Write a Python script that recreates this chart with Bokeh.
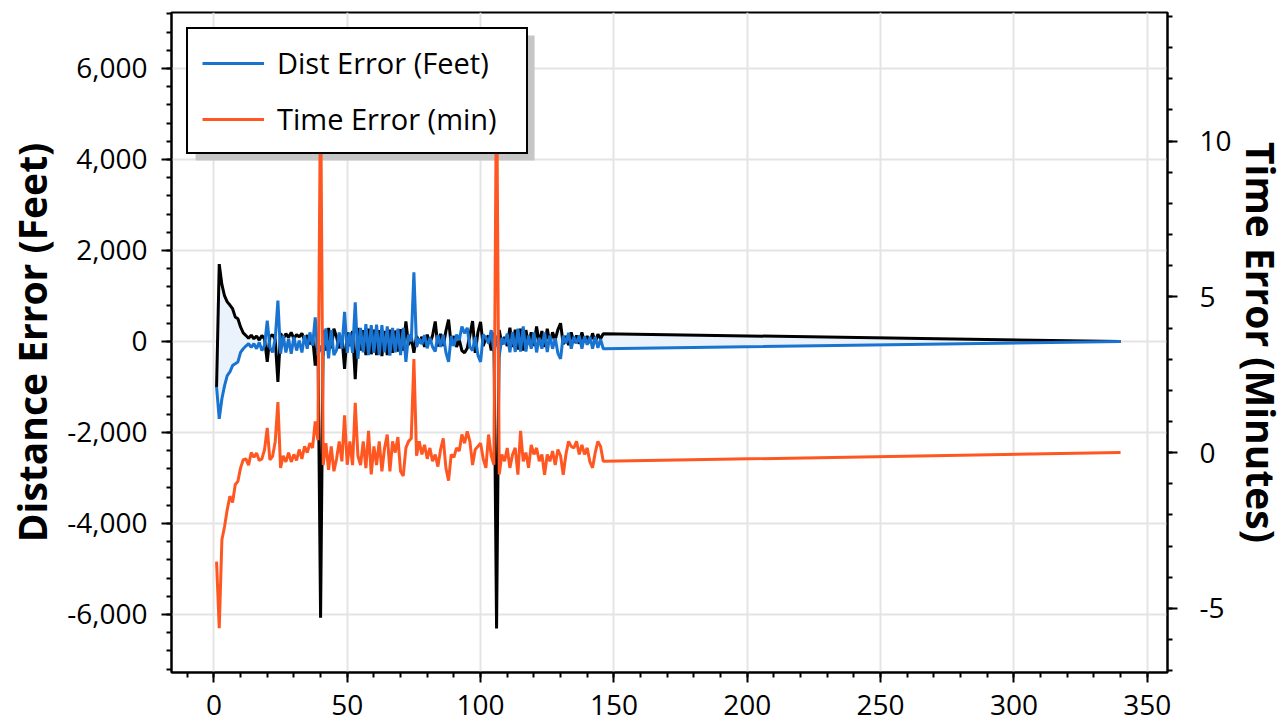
from bokeh.plotting import figure
from bokeh.models import (Range1d, LinearAxis, SingleIntervalTicker, NumeralTickFormatter,
                          Legend, LegendItem, BoxAnnotation)
from bokeh.embed import file_html
from bokeh.resources import INLINE

# ---------------- data ----------------
step = list(range(1, 147)) + [340]

dist_err_ft = [
    -1000, -1700, -1260, -970, -750, -670, -530, -490, -450, -240,
    -160, -100, -50, -130, -50, -160, -20, -200, -90, 460,
    -130, -240, 60, 900, -270, 130, -240, 60, -270, 100,
    -200, 20, -240, 130, -160, 200, -90, 530, -310, -90,
    -300, 290, -370, 250, -300, -190, 200, -160, 650, -250,
    200, -250, 860, -380, 300, -240, 380, -300, 360, -250,
    370, -300, 360, -240, 330, -310, 300, -240, 280, -300,
    300, -450, 150, 0, 1520, -120, 60, -60, 140, -150,
    80, -120, -220, 140, -120, 150, -240, -450, 120, -100,
    150, 30, 330, 180, 300, -120, -200, 100, -300, -450,
    150, 80, -40, 250, -220, 130, -320, 80, -60, 170,
    -240, 210, -230, 280, -220, 330, -220, 130, -160, 200,
    -240, 80, -160, 200, -230, 130, -160, 70, -260, -380,
    130, -40, 190, -160, 100, -40, 130, -160, 110, -70,
    100, -160, 100, -140, 50, -160,
    0,
]

ref_err_ft = [
    -1000, 1700, 1250, 1000, 870, 800, 720, 540, 500, 320,
    190, 130, 70, 140, 60, 120, 30, 130, 60, -450,
    110, 150, 40, -890, 180, 60, 170, 90, 200, 60,
    150, 100, 180, 30, 140, -60, 120, -530, 180, -6070,
    250, -200, 300, -150, 280, 100, -150, 120, -600, 200,
    -100, 230, -830, 300, -200, 250, -300, 280, -280, 260,
    -300, 250, -320, 230, -300, 260, -250, 240, -220, 270,
    -200, 440, -80, 100, -250, 120, -30, 100, -120, 150,
    -40, 130, 440, -110, 170, -100, 230, 480, -80, 120,
    -120, 40, -200, -250, -150, 140, 450, -250, 200, 430,
    -100, 80, 120, -200, 200, -6310, 250, -60, 100, -100,
    300, -120, 260, -180, 280, -200, 250, -60, 200, -100,
    330, -40, 230, -120, 280, -40, 200, 40, 260, 400,
    -60, 120, -80, 200, -30, 130, -50, 200, -20, 120,
    -30, 180, -20, 160, 60, 170,
    0,
]

time_err_min = [
    -3.5, -5.64, -2.8, -2.37, -1.83, -1.4, -1.6, -1.03, -0.92, -0.49,
    -0.23, -0.2, -0.4, 0.0, -0.15, -0.01, -0.25, -0.2, 0.1, 0.79,
    -0.23, -0.12, 0.35, 1.62, -0.49, -0.1, -0.3, 0.0, -0.3, -0.06,
    -0.25, 0.1, -0.2, 0.2, 0.0, 0.3, 0.15, 1.0, 0.4, 12.0,
    -0.4, 0.3, -0.55, 0.2, -0.6, -0.2, 0.36, -0.28, 1.2, -0.39,
    0.36, -0.4, 1.6, -0.1, -0.4, 0.36, -0.5, 0.7, -0.7, 0.2,
    -0.4, 0.36, -0.6, 0.15, 0.58, -0.6, 0.36, 0.0, 0.5, -0.6,
    -0.75, 0.15, 0.36, 0.45, 3.0, -0.1, 0.36, -0.06, 0.25, -0.2,
    0.15, -0.28, -0.06, -0.45, 0.1, 0.46, -0.49, -0.9, -0.06, -0.15,
    0.15, 0.05, 0.58, 0.3, 0.68, 0.36, -0.4, 0.1, 0.2, 0.3,
    -0.2, -0.49, 0.58, -0.1, -0.39, 12.5, -0.7, -0.06, -0.28, 0.15,
    -0.49, -0.06, 0.15, -0.71, 0.7, -0.28, 0.0, -0.49, 0.25, -0.06,
    0.15, -0.28, -0.06, -0.71, -0.06, -0.28, 0.05, -0.4, 0.1, -0.1,
    -0.71, -0.06, 0.36, 0.2, 0.15, 0.36, -0.06, 0.25, -0.06, 0.15,
    -0.3, -0.49, 0.0, 0.36, 0.2, -0.28,
    0.0,
]

legend_labels = ["Dist Error (Feet)", "Time Error (min)"]
left_title = "Distance Error (Feet)"
right_title = "Time Error (Minutes)"

# ---------------- styling ----------------
FONT = "Open Sans"
BLUE = "#1874D0"
ORANGE = "#FF5722"
FILL = "#EAF3FC"
GRID = "#e4e4e4"

p = figure(frame_width=996, frame_height=660,
           x_range=Range1d(-15.9, 357.6), y_range=Range1d(-7275, 7230),
           output_backend="svg", toolbar_location=None,
           min_border_left=171, min_border_right=114,
           min_border_top=12, min_border_bottom=52)
p.extra_y_ranges = {"t": Range1d(-7.06, 14.13)}
p.background_fill_color = "white"
p.border_fill_color = "white"
p.outline_line_color = "black"
p.outline_line_width = 2

xt = SingleIntervalTicker(interval=50, num_minor_ticks=5)
yt = SingleIntervalTicker(interval=2000, num_minor_ticks=5)
rt = SingleIntervalTicker(interval=5, num_minor_ticks=5)

p.xaxis.ticker = xt
p.yaxis.ticker = yt
p.xgrid.ticker = xt
p.ygrid.ticker = yt
for g in (p.xgrid[0], p.ygrid[0]):
    g.grid_line_color = GRID
    g.grid_line_width = 2

p.xaxis.formatter = NumeralTickFormatter(format="0")
p.yaxis.formatter = NumeralTickFormatter(format="0,0")
p.yaxis.axis_label = left_title

raxis = LinearAxis(y_range_name="t", ticker=rt, formatter=NumeralTickFormatter(format="0"),
                   axis_label=right_title)
p.add_layout(raxis, "right")


def style_axis(ax, std):
    ax.axis_line_color = "black"
    ax.axis_line_width = 2
    ax.major_tick_line_color = "black"
    ax.major_tick_line_width = 2
    ax.major_tick_out = 10
    ax.major_tick_in = 0
    ax.minor_tick_line_color = "black"
    ax.minor_tick_line_width = 2
    ax.minor_tick_out = 5
    ax.minor_tick_in = 0
    ax.major_label_text_font = FONT
    ax.major_label_text_font_size = "28px"
    ax.major_label_text_color = "black"
    ax.major_label_standoff = std
    ax.axis_label_text_font = FONT
    ax.axis_label_text_font_style = "bold"
    ax.axis_label_text_font_size = "39px"
    ax.axis_label_text_color = "black"


style_axis(p.xaxis[0], 12)
style_axis(p.yaxis[0], 14)
style_axis(raxis, 22)
p.yaxis[0].axis_label_standoff = 6
raxis.axis_label_standoff = 0

# legend shadow (decoration)
shadow = BoxAnnotation(left=-6.86, right=120.25, top=6726, bottom=3978,
                       fill_color="#c6c6c6", fill_alpha=1.0, line_alpha=0,
                       level="underlay")
p.add_layout(shadow)

# ---------------- marks ----------------
p.varea(x=step, y1=ref_err_ft, y2=dist_err_ft, fill_color=FILL, fill_alpha=1.0)
p.line(step, ref_err_ft, line_color="black", line_width=3)
r_blue = p.line(step, dist_err_ft, line_color=BLUE, line_width=3)
r_orange = p.line(step, time_err_min, line_color=ORANGE, line_width=3, y_range_name="t")

legend = Legend(items=[LegendItem(label=legend_labels[0], renderers=[r_blue]),
                       LegendItem(label=legend_labels[1], renderers=[r_orange])],
                location="top_left")
legend.margin = 15
legend.padding = 14
legend.spacing = 17
legend.label_height = 30
legend.glyph_height = 30
legend.glyph_width = 62
legend.label_width = 235
legend.label_standoff = 13
legend.label_text_font = FONT
legend.label_text_font_size = "29px"
legend.label_text_color = "black"
legend.border_line_color = "black"
legend.border_line_width = 2
legend.border_line_alpha = 1
legend.background_fill_color = "white"
legend.background_fill_alpha = 1
p.add_layout(legend)

open("out.html", "w").write(file_html(p, INLINE))
